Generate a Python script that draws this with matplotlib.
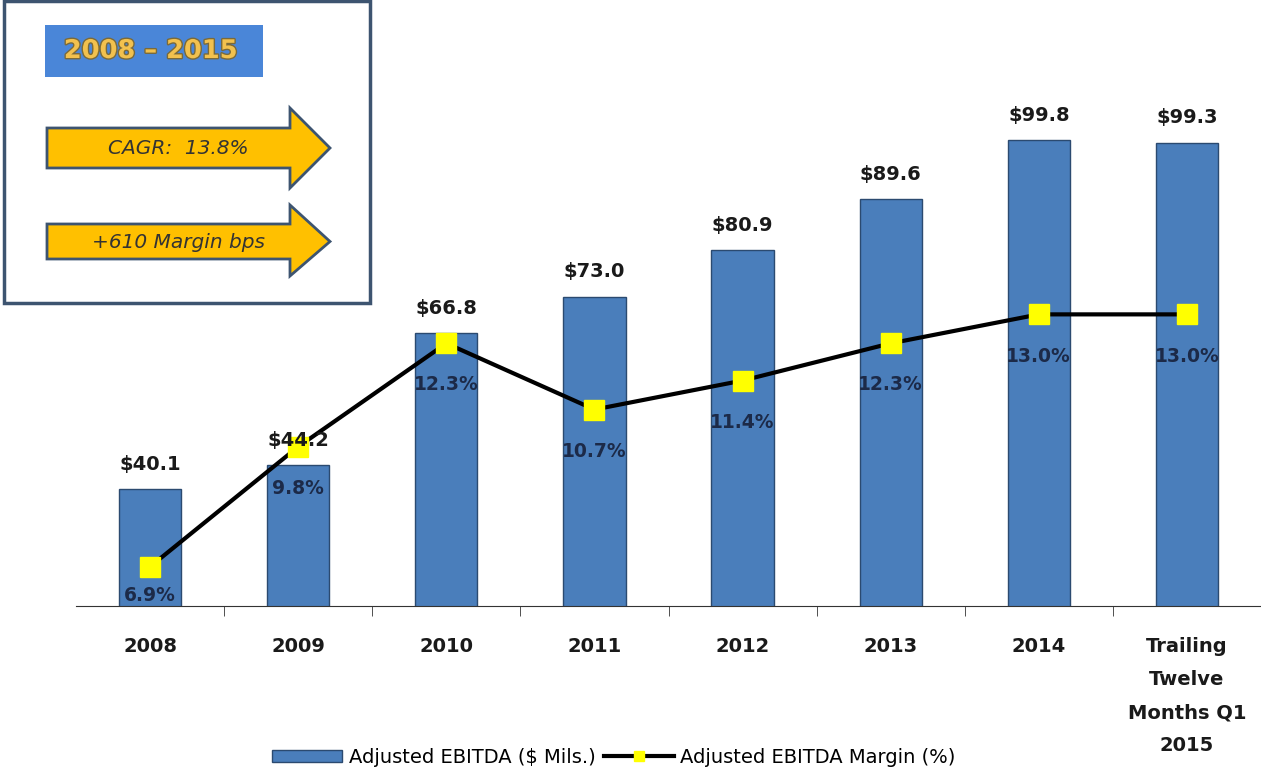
import numpy as np
import matplotlib
matplotlib.use("Agg")
import matplotlib.pyplot as plt
import matplotlib.patheffects as pe
from matplotlib.patches import Rectangle, Polygon

# data
categories = ["2008", "2009", "2010", "2011", "2012", "2013", "2014",
              "Trailing\nTwelve\nMonths Q1\n2015"]
ebitda = [40.1, 44.2, 66.8, 73.0, 80.9, 89.6, 99.8, 99.3]
margin = [6.9, 9.8, 12.3, 10.7, 11.4, 12.3, 13.0, 13.0]

bar_color = "#4a7ebb"
W, H = 1261, 775
fig = plt.figure(figsize=(W / 100, H / 100), dpi=100)
ax1 = fig.add_axes([76 / W, (H - 606) / H, 1 - 76 / W, 606 / H])

x = np.arange(len(categories))
ax1.bar(x, ebitda, width=0.42, color=bar_color, edgecolor="#2b4a70",
        linewidth=1, label="Adjusted EBITDA ($ Mils.)")
ax1.set_xlim(-0.5, len(categories) - 0.5)
ax1.set_ylim(20.1, 123.7)

ax2 = ax1.twinx()
ax2.plot(x, margin, color="black", lw=3, marker="s", markersize=14,
         markerfacecolor="#ffff00", markeredgecolor="#ffff00",
         label="Adjusted EBITDA Margin (%)", zorder=3)
ax2.set_ylim(5.95, 20.6)

# dollar labels on top of the line
for xi, v in zip(x, ebitda):
    ax2.annotate("$%.1f" % v, (xi, v), xycoords=ax1.transData, xytext=(0, 11),
                 textcoords="offset points", ha="center", va="bottom",
                 fontsize=14, fontweight="bold", color="#1a1a1a", zorder=5)

offs = [-21, -30, -30, -30, -30, -30, -30, -30]
for xi, v, o in zip(x, margin, offs):
    ax2.annotate("%.1f%%" % v, (xi, v), xytext=(0, o), textcoords="offset points",
                 ha="center", va="center", fontsize=13.5, fontweight="bold",
                 color="#1c2a48", zorder=4)

for a in (ax1, ax2):
    for s in ("top", "right", "left"):
        a.spines[s].set_visible(False)
    a.set_yticks([])
ax2.spines["bottom"].set_visible(False)
ax1.spines["bottom"].set_color("#333333")
ax1.set_xticks(x)
ax1.set_xticklabels(categories, fontsize=14, fontweight="bold", color="#1a1a1a",
                    linespacing=1.95)
ax1.tick_params(axis="x", which="major", length=0, pad=22)
ax1.set_xticks(x[:-1] + 0.5, minor=True)
ax1.tick_params(axis="x", which="minor", length=7, direction="out", color="#333333")

h1, l1 = ax1.get_legend_handles_labels()
h2, l2 = ax2.get_legend_handles_labels()
fig.legend(h1 + h2, l1 + l2, loc="lower center", bbox_to_anchor=(0.487, -0.012),
           ncol=2, frameon=False, fontsize=14, handlelength=3.6, handleheight=0.6,
           handletextpad=0.35, columnspacing=0.4, markerscale=0.55)

# inset summary box, drawn in pixel coordinates
ov = fig.add_axes([0, 0, 1, 1], zorder=10)
ov.set_xlim(0, W)
ov.set_ylim(H, 0)
ov.axis("off")
ov.add_patch(Rectangle((4, 1), 366, 302, facecolor="white", edgecolor="#3d5470", lw=2.5))
ov.add_patch(Rectangle((45, 25), 218, 52, facecolor="#4a86d8", edgecolor="none"))
ov.text(151, 51, "2008 \u2013 2015", fontsize=18.5, fontweight="heavy", color="#f2c14e",
        ha="center", va="center",
        path_effects=[pe.withStroke(linewidth=2, foreground="#7a6a3a")])


def arrow(y0, y1, yh0, yh1, label):
    ym = (y0 + y1) / 2
    pts = [(47, y0), (290, y0), (290, yh0), (330, ym), (290, yh1), (290, y1), (47, y1)]
    ov.add_patch(Polygon(pts, closed=True, facecolor="#ffc000", edgecolor="#3d5470", lw=2))
    ov.text(178, ym + 1, label, fontsize=14.5, style="italic", color="#333333",
            ha="center", va="center")


arrow(128, 168, 108, 188, "CAGR:  13.8%")
arrow(224, 259, 205, 276, "+610 Margin bps")

fig.savefig("out.png", dpi=100)
